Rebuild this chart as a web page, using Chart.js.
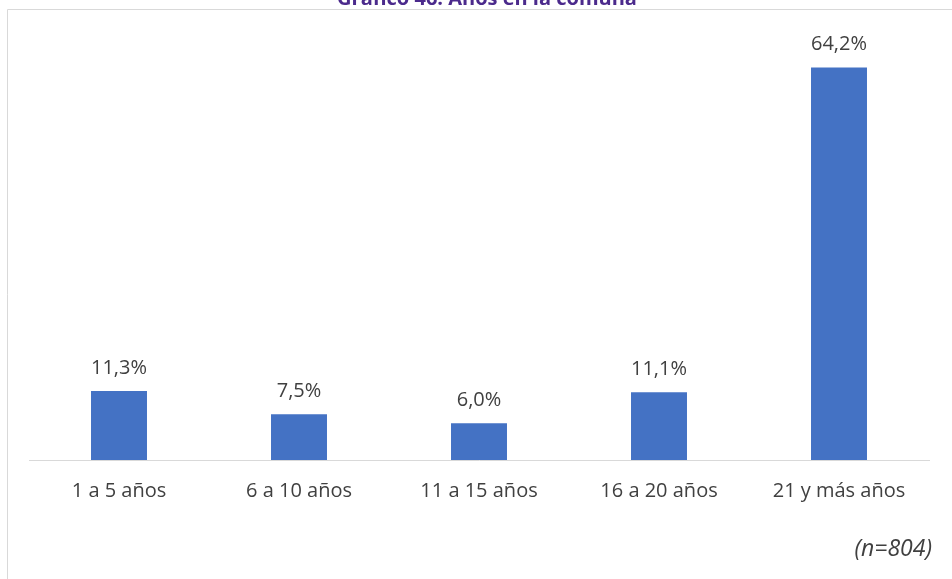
<!DOCTYPE html>
<html>
<head>
<meta charset="utf-8">
<script src="https://cdn.jsdelivr.net/npm/chart.js@4.4.0/dist/chart.umd.min.js"></script>
<style>
  body { margin: 0; background: #fff; }
  #wrap { width: 952px; height: 579px; }
</style>
</head>
<body>
<div id="wrap"><canvas id="years" width="952" height="579"></canvas></div>
<script>
var categories = ['1 a 5 años', '6 a 10 años', '11 a 15 años', '16 a 20 años', '21 y más años'];
var percents = [11.3, 7.5, 6.0, 11.1, 64.2];
var chartTitle = 'Gráfico 46: Años en la comuna';
var sampleNote = '(n=804)';

var textColor = '#404040';
var fontFace = "'Open Sans', 'Liberation Sans', sans-serif";

function formatPct(v) {
  return v.toFixed(1).replace('.', ',') + '%';
}

// frame, cut title, sample note and bar labels
var decorations = {
  id: 'decorations',
  afterDraw: function (chart) {
    var ctx = chart.ctx;
    ctx.save();
    ctx.strokeStyle = '#d9d9d9';
    ctx.lineWidth = 1;
    ctx.beginPath();
    ctx.moveTo(7.5, 579);
    ctx.lineTo(7.5, 9.5);
    ctx.lineTo(952, 9.5);
    ctx.stroke();

    ctx.fillStyle = '#4b2a8c';
    ctx.font = "bold 20px " + fontFace;
    ctx.textAlign = 'center';
    ctx.textBaseline = 'alphabetic';
    ctx.fillText(chartTitle, 487, 5);

    ctx.fillStyle = textColor;
    ctx.font = "italic 23px " + fontFace;
    ctx.textAlign = 'right';
    ctx.textBaseline = 'middle';
    ctx.fillText(sampleNote, 932, 549);

    ctx.font = "20px " + fontFace;
    ctx.textAlign = 'center';
    ctx.textBaseline = 'middle';
    chart.getDatasetMeta(0).data.forEach(function (bar, i) {
      ctx.fillText(formatPct(percents[i]), bar.x, bar.y - 23);
    });
    ctx.restore();
  }
};

new Chart(document.getElementById('years'), {
  type: 'bar',
  data: {
    labels: categories,
    datasets: [{
      data: percents,
      backgroundColor: '#4472c4',
      categoryPercentage: 1,
      barPercentage: 0.311
    }]
  },
  options: {
    responsive: false,
    animation: false,
    layout: { padding: { left: 29, right: 23, top: 32, bottom: 65 } },
    plugins: {
      legend: { display: false },
      tooltip: { enabled: false }
    },
    scales: {
      x: {
        grid: { display: false },
        border: { color: '#d9d9d9', width: 1 },
        ticks: { color: textColor, font: { family: fontFace, size: 20 }, padding: 11, maxRotation: 0 }
      },
      y: {
        display: false,
        min: 0,
        max: 70
      }
    }
  },
  plugins: [decorations]
});
</script>
</body>
</html>
